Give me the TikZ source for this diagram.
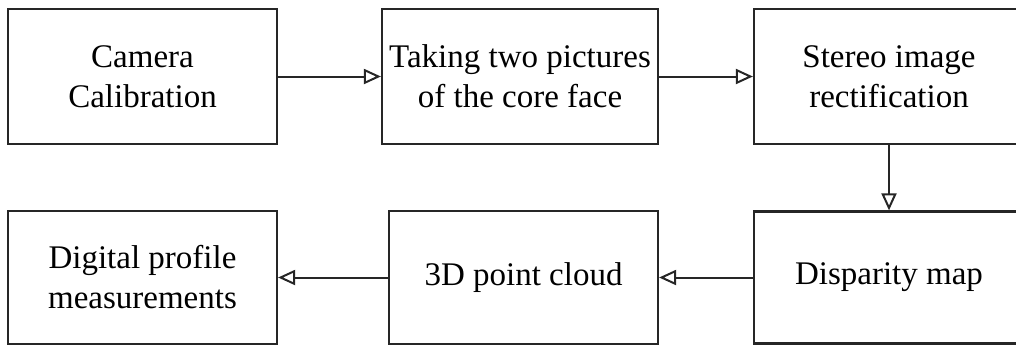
\documentclass[tikz,border=0pt]{standalone}
\usepackage{fontspec}
\setmainfont{Liberation Serif}
\usetikzlibrary{arrows.meta}
\begin{document}
\begin{tikzpicture}[x=1pt,y=-1pt,
  box/.style={draw=black!85,line width=2.2pt,minimum width=#1,minimum height=135pt,inner sep=0pt,align=center,font=\fontsize{33}{40}\selectfont,text=black},
  flow/.style={draw=black!85,line width=2pt,-{Triangle[open,length=17pt,width=15pt,line width=2pt]}}]
\useasboundingbox (0,0) rectangle (1016,346);
\clip (0,0) rectangle (1016,346);
\node[box=269pt] (cam) at (142.5,76.5) {Camera\\Calibration};
\node[box=276pt] (take) at (520,76.5) {Taking two pictures\\of the core face};
\node[box=270pt] (stereo) at (889,76.5) {Stereo image\\rectification};
\node[box=270pt,minimum height=132pt] (disp) at (889,277.5) {Disparity map};
\node[box=269pt,minimum height=133pt] (cloud) at (523.5,277.5) {3D point cloud};
\node[box=269pt,minimum height=133pt] (dig) at (142.5,277.5) {Digital profile\\measurements};
\draw[flow] (cam) -- (take);
\draw[flow] (take) -- (stereo);
\draw[flow] (stereo) -- (disp);
\draw[flow] (disp) -- (cloud);
\draw[flow] (cloud) -- (dig);
\end{tikzpicture}
\end{document}
